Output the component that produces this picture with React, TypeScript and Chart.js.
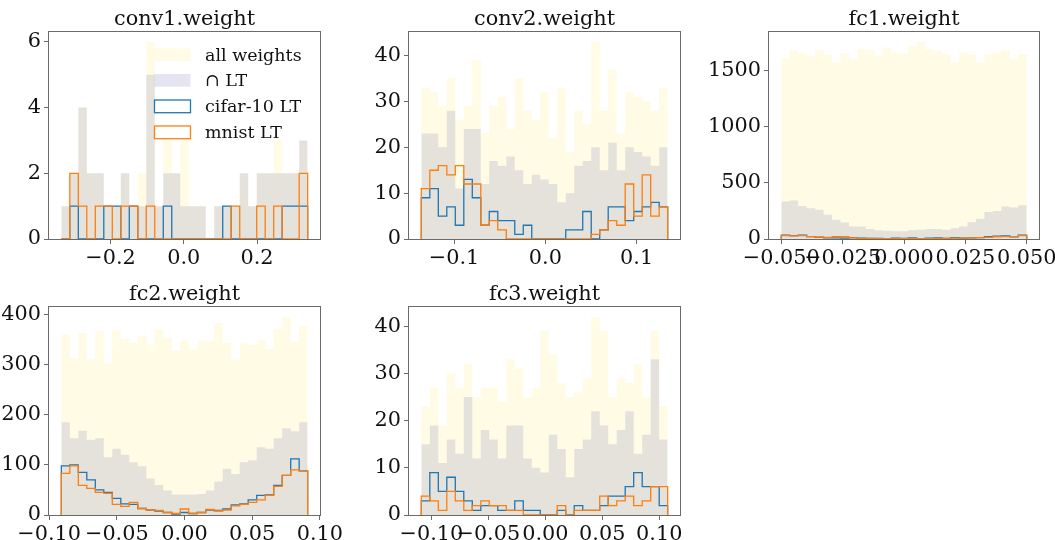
import React, { useEffect, useRef } from "react";
import { Chart, registerables } from "chart.js";

Chart.register(...registerables);

// ---------------- data ----------------
const seriesLabels = ["all weights", "∩ LT", "cifar-10 LT", "mnist LT"];

const conv1Title = "conv1.weight";
const conv1BinRange = [-0.3344, 0.3382];
const conv1All = [1, 2, 4, 2, 2, 1, 1, 2, 1, 2, 6, 1, 3, 2, 3, 1, 1, 0, 1, 1, 1, 2, 1, 2, 2, 3, 2, 2, 3];
const conv1Inter = [1, 2, 4, 2, 2, 1, 1, 2, 1, 1, 5, 1, 2, 2, 1, 1, 1, 0, 1, 1, 1, 2, 1, 2, 2, 2, 2, 2, 3];
const conv1Cifar = [0, 1, 0, 0, 0, 1, 1, 0, 1, 0, 0, 0, 1, 0, 0, 0, 0, 0, 0, 1, 0, 0, 0, 0, 0, 0, 1, 1, 1];
const conv1Mnist = [0, 2, 1, 0, 1, 1, 0, 1, 1, 0, 1, 0, 0, 0, 0, 0, 0, 0, 0, 0, 1, 0, 0, 1, 0, 1, 0, 0, 2];
const conv1XTicks = [-0.2, 0.0, 0.2];
const conv1YTicks = [0, 2, 4, 6];

const conv2Title = "conv2.weight";
const conv2BinRange = [-0.1358, 0.134];
const conv2All = [33, 32, 29, 35, 26, 29, 39, 23, 29, 31, 24, 35, 28, 26, 32, 22, 33, 19, 28, 25, 43, 28, 37, 23, 32, 31, 30, 28, 33];
const conv2Inter = [23, 23, 20, 28, 11, 24, 24, 12, 17, 16, 18, 15, 12, 14, 13, 12, 8, 10, 16, 17, 20, 15, 21, 15, 20, 19, 18, 16, 20];
const conv2Cifar = [9, 11, 5, 7, 3, 13, 9, 3, 6, 4, 4, 1, 3, 0, 0, 0, 0, 2, 2, 6, 0, 2, 7, 7, 4, 6, 7, 8, 7];
const conv2Mnist = [11, 15, 16, 14, 16, 12, 12, 3, 4, 2, 0, 0, 0, 0, 0, 0, 0, 0, 0, 0, 1, 2, 4, 3, 12, 5, 14, 5, 7];
const conv2XTicks = [-0.1, 0.0, 0.1];
const conv2YTicks = [0, 10, 20, 30, 40];

const fc1Title = "fc1.weight";
const fc1BinRange = [-0.05, 0.05];
const fc1All = [1612, 1683, 1654, 1630, 1683, 1639, 1574, 1657, 1603, 1692, 1683, 1633, 1707, 1663, 1654, 1722, 1757, 1692, 1677, 1648, 1574, 1663, 1642, 1574, 1648, 1663, 1683, 1603, 1648];
const fc1Inter = [334, 343, 295, 275, 260, 216, 171, 148, 112, 112, 89, 77, 74, 68, 68, 77, 83, 89, 89, 83, 95, 112, 150, 180, 240, 250, 290, 280, 300];
const fc1Cifar = [35, 30, 35, 22, 15, 10, 10, 8, 12, 8, 5, 5, 3, 8, 5, 10, 3, 8, 10, 5, 12, 8, 10, 12, 20, 25, 28, 20, 35];
const fc1Mnist = [30, 28, 30, 22, 18, 15, 20, 20, 10, 5, 5, 3, 3, 5, 3, 5, 3, 3, 5, 5, 8, 8, 10, 12, 15, 20, 22, 22, 30];
const fc1XTicks = [-0.05, -0.025, 0.0, 0.025, 0.05];
const fc1YTicks = [0, 500, 1000, 1500];

const fc2Title = "fc2.weight";
const fc2BinRange = [-0.091, 0.091];
const fc2All = [360, 313, 363, 310, 367, 302, 368, 351, 343, 357, 340, 370, 353, 327, 348, 331, 348, 347, 383, 343, 310, 342, 339, 348, 331, 371, 395, 346, 377];
const fc2Inter = [185, 153, 168, 150, 153, 115, 132, 120, 105, 97, 73, 60, 49, 41, 41, 41, 42, 49, 67, 92, 82, 105, 109, 135, 132, 153, 173, 167, 185];
const fc2Cifar = [98, 100, 85, 70, 50, 45, 33, 22, 21, 13, 10, 8, 5, 2, 5, 3, 5, 10, 9, 12, 20, 22, 30, 39, 40, 59, 79, 112, 88];
const fc2Mnist = [83, 98, 59, 53, 45, 43, 21, 17, 25, 13, 10, 9, 5, 3, 12, 3, 5, 11, 8, 10, 18, 21, 25, 30, 39, 57, 79, 90, 88];
const fc2XTicks = [-0.1, -0.05, 0.0, 0.05, 0.1];
const fc2YTicks = [0, 100, 200, 300, 400];

const fc3Title = "fc3.weight";
const fc3BinRange = [-0.1088, 0.1074];
const fc3All = [23, 27, 19, 30, 27, 32, 25, 27, 27, 24, 33, 31, 25, 27, 39, 34, 28, 25, 26, 29, 42, 39, 25, 29, 28, 32, 25, 39, 23];
const fc3Inter = [15, 19, 11, 16, 13, 25, 12, 18, 16, 12, 19, 19, 12, 10, 9, 17, 14, 8, 14, 16, 22, 19, 15, 18, 22, 13, 17, 33, 16];
const fc3Cifar = [3, 9, 5, 8, 5, 3, 1, 2, 2, 1, 1, 3, 1, 1, 0, 0, 1, 0, 2, 1, 1, 2, 4, 4, 6, 9, 6, 6, 2];
const fc3Mnist = [4, 3, 1, 5, 3, 1, 2, 3, 2, 2, 1, 1, 0, 0, 0, 0, 2, 0, 1, 1, 1, 4, 2, 3, 4, 2, 3, 6, 6];
const fc3XTicks = [-0.1, -0.05, 0.0, 0.05, 0.1];
const fc3YTicks = [0, 10, 20, 30, 40];

// ---------------- styles ----------------
const FONT_FAMILY = "'DejaVu Serif', 'Liberation Serif', serif";
const FONT_SIZE = 20.8;
const LEGEND_FONT_SIZE = 17.5;
const TEXT_COLOR = "#111111";
const FRAME_COLOR = "#6a6a6a";
const ALL_COLOR = "rgba(255, 215, 0, 0.1)";
const INTER_COLOR = "rgba(0, 0, 128, 0.1)";
const CIFAR_COLOR = "#1f77b4";
const MNIST_COLOR = "#ff7f0e";
const STEP_WIDTH = 1.3;

const TITLE_H = 28;
const XAXIS_H = 40;
const RIGHT_PAD = 40;

type Panel = {
  title: string;
  binRange: number[];
  all: number[];
  inter: number[];
  cifar: number[];
  mnist: number[];
  xTicks: number[];
  yTicks: number[];
  decimals: number;
  legend: boolean;
  // axes box in page pixels
  box: { left: number; top: number; right: number; bottom: number; yAxisW: number };
};

const panels: Panel[] = [
  {
    title: conv1Title, binRange: conv1BinRange, all: conv1All, inter: conv1Inter, cifar: conv1Cifar, mnist: conv1Mnist,
    xTicks: conv1XTicks, yTicks: conv1YTicks, decimals: 1, legend: true,
    box: { left: 49, top: 32, right: 320, bottom: 239, yAxisW: 47 },
  },
  {
    title: conv2Title, binRange: conv2BinRange, all: conv2All, inter: conv2Inter, cifar: conv2Cifar, mnist: conv2Mnist,
    xTicks: conv2XTicks, yTicks: conv2YTicks, decimals: 1, legend: false,
    box: { left: 409, top: 32, right: 680, bottom: 239, yAxisW: 70 },
  },
  {
    title: fc1Title, binRange: fc1BinRange, all: fc1All, inter: fc1Inter, cifar: fc1Cifar, mnist: fc1Mnist,
    xTicks: fc1XTicks, yTicks: fc1YTicks, decimals: 3, legend: false,
    box: { left: 769, top: 32, right: 1039, bottom: 239, yAxisW: 70 },
  },
  {
    title: fc2Title, binRange: fc2BinRange, all: fc2All, inter: fc2Inter, cifar: fc2Cifar, mnist: fc2Mnist,
    xTicks: fc2XTicks, yTicks: fc2YTicks, decimals: 2, legend: false,
    box: { left: 49, top: 307, right: 320, bottom: 515, yAxisW: 47 },
  },
  {
    title: fc3Title, binRange: fc3BinRange, all: fc3All, inter: fc3Inter, cifar: fc3Cifar, mnist: fc3Mnist,
    xTicks: fc3XTicks, yTicks: fc3YTicks, decimals: 2, legend: false,
    box: { left: 409, top: 307, right: 680, bottom: 515, yAxisW: 70 },
  },
];

// histogram outline points (bin edges like matplotlib's hist with len(counts) bins)
function histPoints(range: number[], counts: number[]) {
  const [lo, hi] = range;
  const w = (hi - lo) / counts.length;
  const pts = [{ x: lo, y: 0 }];
  counts.forEach((c, i) => pts.push({ x: lo + i * w, y: c }));
  pts.push({ x: hi, y: 0 });
  return pts;
}

function fmtTick(v: number, decimals: number) {
  const s = Math.abs(v).toFixed(decimals);
  return v < -1e-12 ? "\u2212" + s : s;
}

const framePlugin = {
  id: "frame",
  afterDraw(chart: any) {
    const { ctx, chartArea: a } = chart;
    ctx.save();
    ctx.strokeStyle = FRAME_COLOR;
    ctx.lineWidth = 1;
    const l = Math.round(a.left) - 0.5;
    const t = Math.round(a.top) - 0.5;
    const r = Math.round(a.right) + 0.5;
    const b = Math.round(a.bottom) + 0.5;
    ctx.strokeRect(l, t, r - l, b - t);
    ctx.restore();
  },
};

const legendPlugin = {
  id: "histLegend",
  afterDatasetsDraw(chart: any) {
    const { ctx, chartArea: a } = chart;
    const swX = a.left + 105.5;
    const swW = 36;
    const swH = 12.7;
    const rowTops = [16.3, 42, 68, 94];
    const textX = a.left + 156;
    ctx.save();
    ctx.font = `${LEGEND_FONT_SIZE}px ${FONT_FAMILY}`;
    ctx.textBaseline = "middle";
    ctx.textAlign = "left";
    seriesLabels.forEach((label, i) => {
      const y = a.top + rowTops[i];
      if (i === 0) {
        ctx.fillStyle = ALL_COLOR;
        ctx.fillRect(swX, y, swW, swH);
      } else if (i === 1) {
        ctx.fillStyle = INTER_COLOR;
        ctx.fillRect(swX, y, swW, swH);
      } else {
        ctx.strokeStyle = i === 2 ? CIFAR_COLOR : MNIST_COLOR;
        ctx.lineWidth = STEP_WIDTH;
        ctx.strokeRect(swX, y, swW, swH);
      }
      ctx.fillStyle = TEXT_COLOR;
      ctx.fillText(label, textX, y + swH / 2 + 1.4);
    });
    ctx.restore();
  },
};

function HistPanel({ panel }: { panel: Panel }) {
  const ref = useRef<HTMLCanvasElement | null>(null);
  const { box } = panel;
  const width = box.yAxisW + (box.right - box.left) + RIGHT_PAD;
  const height = TITLE_H + (box.bottom - box.top) + XAXIS_H;

  useEffect(() => {
    if (!ref.current) return;
    const [lo, hi] = panel.binRange;
    const margin = (hi - lo) * 0.05;
    const yMax = Math.max(...panel.all) * 1.05;
    const font = { family: FONT_FAMILY, size: FONT_SIZE };

    const chart = new Chart(ref.current, {
      type: "line",
      data: {
        datasets: [
          {
            label: seriesLabels[0], data: histPoints(panel.binRange, panel.all), order: 4,
            stepped: true, fill: "origin", backgroundColor: ALL_COLOR, borderColor: "rgba(0,0,0,0)",
            borderWidth: 0, pointRadius: 0,
          },
          {
            label: seriesLabels[1], data: histPoints(panel.binRange, panel.inter), order: 3,
            stepped: true, fill: "origin", backgroundColor: INTER_COLOR, borderColor: "rgba(0,0,0,0)",
            borderWidth: 0, pointRadius: 0,
          },
          {
            label: seriesLabels[2], data: histPoints(panel.binRange, panel.cifar), order: 2,
            stepped: true, fill: false, borderColor: CIFAR_COLOR, borderWidth: STEP_WIDTH, pointRadius: 0,
          },
          {
            label: seriesLabels[3], data: histPoints(panel.binRange, panel.mnist), order: 1,
            stepped: true, fill: false, borderColor: MNIST_COLOR, borderWidth: STEP_WIDTH, pointRadius: 0,
          },
        ] as any,
      },
      options: {
        responsive: false,
        animation: false,
        devicePixelRatio: 1,
        events: [],
        layout: { padding: { left: 0, right: RIGHT_PAD, top: 0, bottom: 0 } },
        plugins: {
          legend: { display: false },
          tooltip: { enabled: false },
          title: {
            display: true,
            text: panel.title,
            fullSize: false,
            color: TEXT_COLOR,
            font: { family: FONT_FAMILY, size: FONT_SIZE, weight: "normal", lineHeight: "24px" } as any,
            padding: { top: 4, bottom: 0 },
          },
        },
        scales: {
          x: {
            type: "linear",
            min: lo - margin,
            max: hi + margin,
            afterBuildTicks: (s: any) => {
              s.ticks = panel.xTicks.map((v) => ({ value: v }));
            },
            afterFit: (s: any) => {
              s.height = XAXIS_H;
            },
            ticks: {
              autoSkip: false,
              maxRotation: 0,
              color: TEXT_COLOR,
              font,
              padding: 2,
              callback: (v: any) => fmtTick(Number(v), panel.decimals),
            },
            grid: { display: true, drawOnChartArea: false, drawTicks: true, tickLength: 5, tickColor: FRAME_COLOR, tickWidth: 1 },
            border: { display: false },
          },
          y: {
            type: "linear",
            min: 0,
            max: yMax,
            afterBuildTicks: (s: any) => {
              s.ticks = panel.yTicks.map((v) => ({ value: v }));
            },
            afterFit: (s: any) => {
              s.width = box.yAxisW;
            },
            ticks: {
              autoSkip: false,
              color: TEXT_COLOR,
              font,
              padding: 3,
              callback: (v: any) => String(Math.round(Number(v))),
            },
            grid: { display: true, drawOnChartArea: false, drawTicks: true, tickLength: 5, tickColor: FRAME_COLOR, tickWidth: 1 },
            border: { display: false },
          },
        },
      } as any,
      plugins: panel.legend ? [framePlugin, legendPlugin] : [framePlugin],
    });
    return () => chart.destroy();
  }, [panel]);

  return (
    <canvas
      ref={ref}
      width={width}
      height={height}
      style={{
        position: "absolute",
        left: box.left - box.yAxisW,
        top: box.top - TITLE_H,
        width,
        height,
      }}
    />
  );
}

export default function App() {
  return (
    <div
      style={{
        position: "fixed",
        left: 0,
        top: 0,
        width: 1055,
        height: 540,
        overflow: "hidden",
        background: "#ffffff",
      }}
    >
      {panels.map((p) => (
        <HistPanel key={p.title} panel={p} />
      ))}
    </div>
  );
}
